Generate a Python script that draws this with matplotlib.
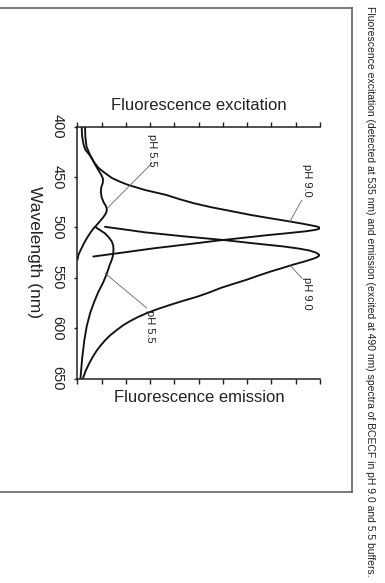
import matplotlib
matplotlib.use('Agg')
import matplotlib.pyplot as plt
from matplotlib.lines import Line2D

plt.rcParams['font.family'] = ['Liberation Sans', 'DejaVu Sans']

# excitation spectra (detected at 535 nm)
wl_ex90 = [400, 410, 420, 428, 435, 441, 446, 451, 455, 458, 463, 468, 472, 476, 480,
           484, 488, 491, 494, 496.5, 498.5, 499.5, 500.5, 501.5, 502.5, 504, 506, 508,
           510, 513, 517, 521, 525, 529]
ex90 = [3.2, 3.3, 3.8, 5.2, 6.8, 8.7, 11.3, 14.2, 17.8, 21, 27.9, 36.8, 42, 47.8, 55,
        63.5, 72, 79.4, 87, 93, 97.3, 99.2, 99.8, 99.6, 98.2, 94, 86, 77.5,
        70, 58.5, 45, 31, 19, 6.6]

wl_ex55 = [400, 410, 418, 423, 428, 433, 438, 443, 448, 452, 456, 460, 465, 470, 475,
           479, 482, 485, 488, 491, 494, 498, 501, 506, 511, 516, 521, 525, 528, 532]
ex55 = [1.8, 2.0, 2.6, 3.3, 5.0, 6.3, 7.4, 8.6, 9.9, 10.6, 10.5, 9.9, 9.7, 10.0, 10.8,
        11.8, 12.2, 12.0, 11.3, 10.4, 9.3, 7.9, 6.7, 5.2, 3.9, 2.7, 1.7, 0.9, 0.4, 0.1]

# emission spectra (excited at 490 nm)
wl_em90 = [499.5, 502, 505, 509, 512.6, 516, 519, 521, 523, 525, 526.5, 527.5, 528.5,
           530, 531.5, 534, 537, 540, 544, 548, 552, 556, 560, 565, 569, 573, 577, 581,
           585, 589, 593, 597, 602, 607, 612, 617, 622, 628, 635, 642, 650]
em90 = [11.4, 19, 27.9, 44, 60.2, 73, 84.9, 91, 95.6, 98.2, 99.3, 99.7, 99.5,
        98.5, 96.8, 93.5, 89, 85, 79.5, 74.5, 69.8, 64.5, 59.3, 54, 49.2, 43.5, 38.2, 33.2,
        28.8, 25, 21.8, 19, 16.2, 13.6, 11.5, 9.7, 8.1, 6.5, 4.9, 3.5, 2.3]

wl_em55 = [499.5, 503, 506, 510, 514, 518, 522.5, 526, 529, 533, 537, 542, 547, 555,
           565, 575, 585, 598, 612, 630, 650]
em55 = [7.3, 9.5, 11.4, 13.0, 14.2, 14.8, 14.9, 14.8, 14.6, 14.1, 13.4, 12.7, 12.0, 10.6,
        8.5, 6.8, 5.3, 3.9, 2.9, 2.0, 1.3]

wl_ticks = [400, 450, 500, 550, 600, 650]

W, H = 385, 583
fig = plt.figure(figsize=(W / 100, H / 100), dpi=100)

def fx(px):
    return px / W

def fy(py):
    return 1 - py / H

ax = fig.add_axes([fx(77.3), fy(378.5), fx(320) - fx(77.3), (378.5 - 126.5) / H])
for x, y in [(ex90, wl_ex90), (ex55, wl_ex55), (em90, wl_em90), (em55, wl_em55)]:
    ax.plot(x, y, color='#111111', lw=1.35, solid_joinstyle='round', solid_capstyle='round')

ax.set_xlim(0, 100)
ax.set_ylim(650, 400)
ax.set_xticks(range(0, 101, 10))
ax.set_yticks(wl_ticks)
ax.set_yticklabels([str(w) for w in wl_ticks], rotation=-90, va='center', ha='right',
                   fontsize=10.5, color='#222222')
ax.xaxis.set_ticks_position('both')
ax.tick_params(axis='x', direction='out', length=3.5, width=1.0, color='#222222',
               labelbottom=False, labeltop=False)
ax.tick_params(axis='y', direction='out', length=2.2, width=1.0, color='#222222', pad=7)
ax.spines['right'].set_visible(False)
for s in ['top', 'bottom', 'left']:
    ax.spines[s].set_linewidth(1.1)
    ax.spines[s].set_color('#222222')

# pointer labels
notes = [('pH 5.5', (30.7, 423.3), (30.7, 436.5), (12.4, 481)),
         ('pH 9.0', (94.5, 453), (92.5, 473), (87.6, 494.4)),
         ('pH 9.0', (94.5, 565), (92.5, 550.6), (87.6, 537.4)),
         ('pH 5.5', (30.0, 598.6), (28.6, 580), (11.4, 545.6))]
for txt, tpos, p0, p1 in notes:
    ax.text(tpos[0], tpos[1], txt, rotation=-90, ha='center', va='center',
            fontsize=8, color='#222222')
    ax.plot([p0[0], p1[0]], [p0[1], p1[1]], color='#666666', lw=0.6)

fig.text(fx(199), fy(105), 'Fluorescence excitation', ha='center', va='center',
         fontsize=12, color='#222222')
fig.text(fx(199), fy(397), 'Fluorescence emission', ha='center', va='center',
         fontsize=12, color='#222222')
fig.text(fx(34), fy(252), 'Wavelength (nm)', rotation=-90, ha='center', va='center',
         fontsize=12.5, color='#222222')

# frame around the figure
fc = '#555555'
fig.add_artist(Line2D([0, fx(352)], [fy(8), fy(8)], color=fc, lw=1.1))
fig.add_artist(Line2D([fx(352), fx(352)], [fy(8), fy(492)], color=fc, lw=1.1))
fig.add_artist(Line2D([0, fx(352)], [fy(492), fy(492)], color=fc, lw=1.1))

fig.text(fx(370), fy(291),
         'Fluorescence excitation (detected at 535 nm) and emission (excited at 490 nm) '
         'spectra of BCECF in pH 9.0 and 5.5 buffers.',
         rotation=-90, ha='center', va='center', fontsize=7.5, color='#222222')

fig.savefig('out.png', dpi=100)
